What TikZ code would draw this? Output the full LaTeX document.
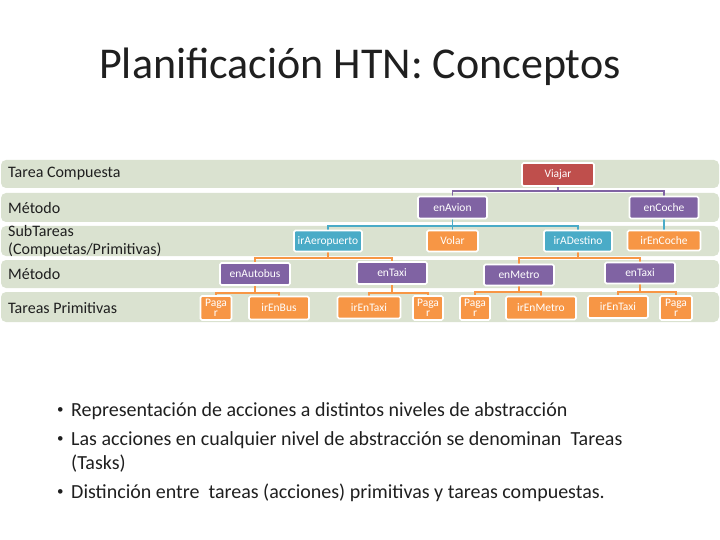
\documentclass[tikz,border=0pt]{standalone}
\usepackage{fontspec}
\setmainfont{Carlito}
\usepackage{xcolor}
\usetikzlibrary{backgrounds}
\definecolor{band}{rgb}{0.855, 0.886, 0.816}
\definecolor{rojo}{rgb}{0.75, 0.31, 0.30}
\definecolor{morado}{rgb}{0.50, 0.39, 0.64}
\definecolor{azul}{rgb}{0.29, 0.67, 0.78}
\definecolor{naranja}{rgb}{0.97, 0.59, 0.27}
\definecolor{texto}{rgb}{0.12, 0.12, 0.12}
\tikzset{
    tarea/.style={draw=white, line width=1.6pt, rounded corners=1.5pt, fill=#1, text=white,
        inner sep=0pt, font=\fontsize{11.5}{10.5}\selectfont, align=center},
    enlace/.style={line width=1.8pt, draw=#1},
    etiqueta/.style={anchor=west, text=texto, font=\fontsize{16}{18}\selectfont, align=left, inner sep=0pt}
}
\begin{document}
\begin{tikzpicture}[x=1pt,y=-1pt]
        \useasboundingbox (0,0) rectangle (720,540);
        \node[font=\fontsize{44}{48}\selectfont, text=texto] (titulo) at (360,67) {Planificación HTN: Conceptos};
        % bands, one per level
        \begin{pgfonlayer}{background}
            \foreach \top/\bot in {160/188, 193/222, 226/256, 260/288, 292/322}{
                \fill[band, rounded corners=5pt] (1,\top) rectangle (719,\bot);
            }
        \end{pgfonlayer}
        \node[etiqueta] (lblA) at (8,174) {Tarea Compuesta};
        \node[etiqueta] (lblB) at (8,208) {Método};
        \node[etiqueta] (lblC) at (8,241) {SubTareas\\(Compuetas/Primitivas)};
        \node[etiqueta] (lblD) at (8,274) {Método};
        \node[etiqueta] (lblE) at (8,308) {Tareas Primitivas};
        % tree
        \node[tarea=rojo, minimum width=72, minimum height=23] (viajar) at (558,174.5) {Viajar};
        \node[tarea=morado, minimum width=69, minimum height=22] (enAvion) at (452.5,207.5) {enAvion};
        \node[tarea=morado, minimum width=69, minimum height=22] (enCoche) at (664,207.5) {enCoche};
        \node[tarea=azul, minimum width=68, minimum height=21] (irAeropuerto) at (328,241) {irAeropuerto};
        \node[tarea=naranja, minimum width=51, minimum height=21] (volar) at (452.5,241) {Volar};
        \node[tarea=azul, minimum width=68, minimum height=21] (irADestino) at (578,241) {irADestino};
        \node[tarea=naranja, minimum width=73, minimum height=20] (irEnCoche) at (664,240.5) {irEnCoche};
        \node[tarea=morado, minimum width=70, minimum height=22] (enAutobus) at (255,274) {enAutobus};
        \node[tarea=morado, minimum width=70, minimum height=22] (enTaxiA) at (392,273) {enTaxi};
        \node[tarea=morado, minimum width=70, minimum height=21] (enMetro) at (519,275) {enMetro};
        \node[tarea=morado, minimum width=70, minimum height=21] (enTaxiB) at (640,273) {enTaxi};
        \node[tarea=naranja, minimum width=31, minimum height=24] (pagarA) at (216,308) {Paga\\r};
        \node[tarea=naranja, minimum width=60, minimum height=23] (irEnBus) at (279,308) {irEnBus};
        \node[tarea=naranja, minimum width=63, minimum height=22] (irEnTaxiA) at (369,307.5) {irEnTaxi};
        \node[tarea=naranja, minimum width=30, minimum height=24] (pagarB) at (428,308) {Paga\\r};
        \node[tarea=naranja, minimum width=30, minimum height=24] (pagarC) at (475,308) {Paga\\r};
        \node[tarea=naranja, minimum width=70, minimum height=23] (irEnMetro) at (541,308) {irEnMetro};
        \node[tarea=naranja, minimum width=60, minimum height=22] (irEnTaxiB) at (618,307) {irEnTaxi};
        \node[tarea=naranja, minimum width=32, minimum height=24] (pagarD) at (676,308) {Paga\\r};
        \begin{pgfonlayer}{background}
            \foreach \padre/\hijo/\baja/\col in {viajar/enAvion/4/morado, viajar/enCoche/4/morado,
                    enAvion/irAeropuerto/7/azul, enAvion/volar/7/azul, enAvion/irADestino/7/azul, enCoche/irEnCoche/7/azul,
                    irAeropuerto/enAutobus/6/naranja, irAeropuerto/enTaxiA/6/naranja,
                    irADestino/enMetro/6/naranja, irADestino/enTaxiB/6/naranja,
                    enAutobus/pagarA/7/naranja, enAutobus/irEnBus/7/naranja,
                    enTaxiA/irEnTaxiA/8/naranja, enTaxiA/pagarB/8/naranja,
                    enMetro/pagarC/6/naranja, enMetro/irEnMetro/6/naranja,
                    enTaxiB/irEnTaxiB/8/naranja, enTaxiB/pagarD/8/naranja}{
                \draw[enlace=\col] (\padre.south) -- ++(0,\baja) -| (\hijo.north);
            }
        \end{pgfonlayer}
        % bullets
        \begin{scope}[every node/.style={anchor=north west, text=texto, font=\fontsize{20}{24}\selectfont, inner sep=0pt, align=left}]
            \node[font=\fontsize{13}{13}\selectfont] (puntoA) at (57,407) {\textbullet};
            \node (lineaA) at (71,402) {Representación de acciones a distintos niveles de abstracción};
            \node[font=\fontsize{13}{13}\selectfont] (puntoB) at (57,436) {\textbullet};
            \node (lineaB) at (71,431) {Las acciones en cualquier nivel de abstracción se denominan~ Tareas\\(Tasks)};
            \node[font=\fontsize{13}{13}\selectfont] (puntoC) at (57,489) {\textbullet};
            \node (lineaC) at (71,484) {Distinción entre~ tareas (acciones) primitivas y tareas compuestas.};
        \end{scope}
\end{tikzpicture}
\end{document}
